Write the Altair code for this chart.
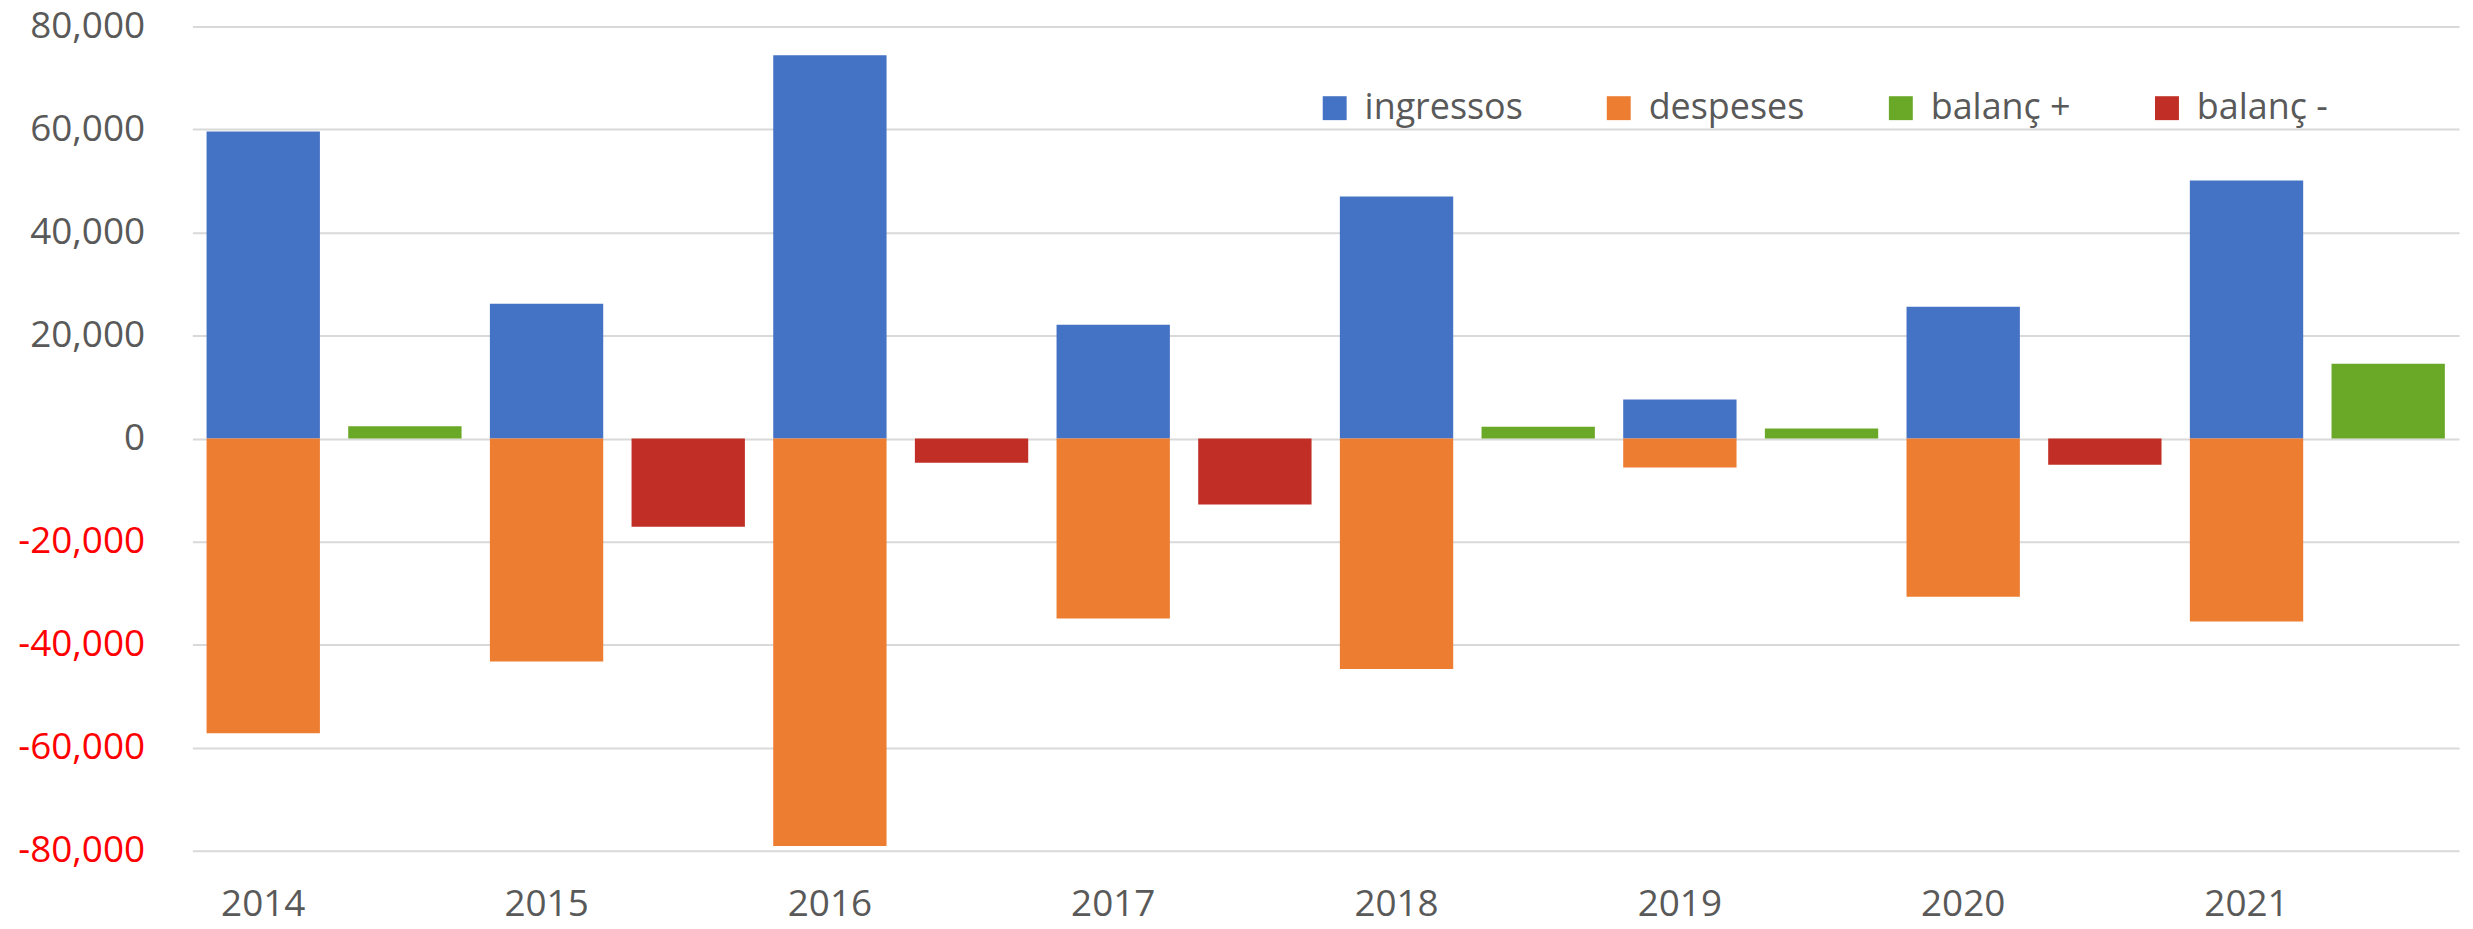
import altair as alt
import pandas as pd

years = ["2014", "2015", "2016", "2017", "2018", "2019", "2020", "2021"]
ingressos = [59600, 26150, 74400, 22100, 47000, 7570, 25610, 50100]
despeses = [-57200, -43250, -79100, -34900, -44700, -5610, -30700, -35500]
balanc = [2400, -17100, -4700, -12800, 2300, 1960, -5070, 14550]

series_names = ["ingressos", "despeses", "balanç +", "balanç -"]
series_colors = ["#4472C4", "#ED7D31", "#6AA927", "#C02E25"]

rows = []
slot_order = []
for i, y in enumerate(years):
    slot_order += [y, y + " bal"]
    rows.append({"slot": y, "serie": "ingressos", "value": ingressos[i]})
    rows.append({"slot": y, "serie": "despeses", "value": despeses[i]})
    rows.append({"slot": y + " bal",
                 "serie": "balanç +" if balanc[i] >= 0 else "balanç -",
                 "value": balanc[i]})
df = pd.DataFrame(rows)

FONT = "Open Sans"
TXT = "#595959"

chart = alt.Chart(df).mark_bar().encode(
    x=alt.X("slot:N", sort=slot_order,
            scale=alt.Scale(paddingInner=0.2, paddingOuter=0.1),
            axis=alt.Axis(title=None, labelAngle=0, ticks=False, domain=False,
                          labelExpr="length(datum.label) > 4 ? '' : datum.label",
                          labelFont=FONT, labelFontSize=37, labelColor=TXT,
                          labelPadding=36)),
    y=alt.Y("value:Q",
            scale=alt.Scale(domain=[-80000, 80000], nice=False),
            axis=alt.Axis(title=None, values=list(range(-80000, 80001, 20000)),
                          labelExpr="(datum.value < 0 ? '-' : '') + format(abs(datum.value), ',.0f')",
                          ticks=False, domain=False,
                          gridColor="#D9D9D9", gridWidth=2,
                          labelFont=FONT, labelFontSize=37,
                          labelColor=alt.expr("datum.value < 0 ? '#FF0000' : '#595959'"),
                          labelPadding=48, labelLimit=0)),
    y2=alt.Y2(datum=0),
    color=alt.Color("serie:N",
                    scale=alt.Scale(domain=series_names, range=series_colors),
                    legend=alt.Legend(title=None, orient="none", direction="horizontal",
                                      legendX=1128, legendY=64,
                                      symbolType="square", symbolSize=576,
                                      symbolStrokeWidth=0, symbolOpacity=1,
                                      labelFont=FONT, labelFontSize=36, labelColor=TXT,
                                      labelLimit=0,
                                      labelOffset=12, columnPadding=78, padding=0)),
).properties(
    width=2274,
    height=827,
    autosize=alt.AutoSizeParams(type="none"),
    padding={"left": 185, "top": 17, "right": 6, "bottom": 77},
).configure_view(stroke=None)

chart.save("out.html", embed_options={"renderer": "svg", "actions": False})
